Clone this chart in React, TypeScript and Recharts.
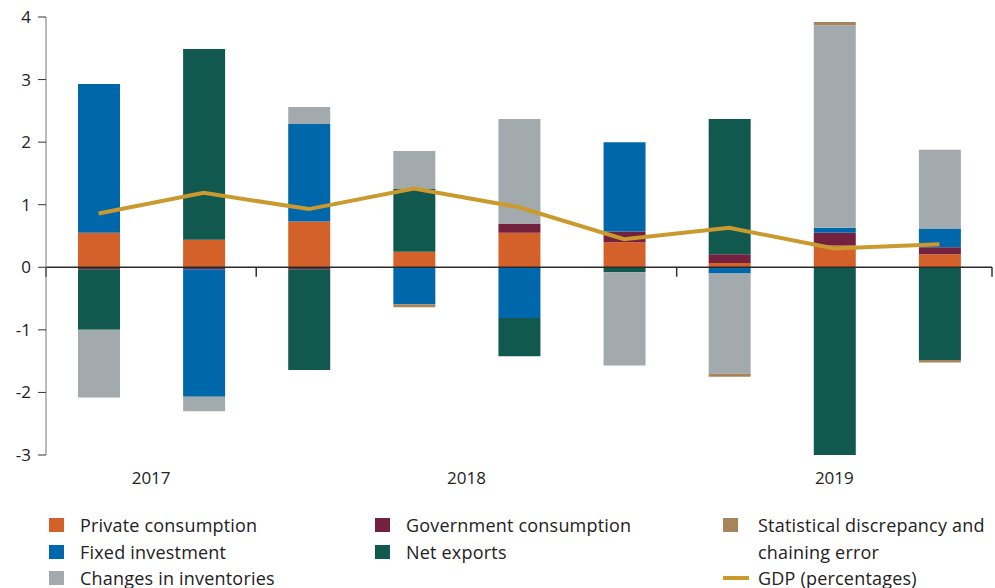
import React from 'react';
import { ComposedChart, Bar, Line, XAxis, YAxis, ReferenceLine, Legend } from 'recharts';

const quarters = ['2017 Q3', '2017 Q4', '2018 Q1', '2018 Q2', '2018 Q3', '2018 Q4', '2019 Q1', '2019 Q2', '2019 Q3'];
const privateConsumption = [0.55, 0.44, 0.73, 0.25, 0.55, 0.4, 0.07, 0.35, 0.21];
const governmentConsumption = [-0.03, -0.03, -0.03, 0, 0.14, 0.17, 0.14, 0.2, 0.11];
const fixedInvestment = [2.38, -2.04, 1.56, -0.59, -0.81, 1.43, -0.1, 0.08, 0.3];
const netExports = [-0.97, 3.05, -1.61, 1.0, -0.61, -0.08, 2.16, -3.0, -1.48];
const inventories = [-1.08, -0.23, 0.27, 0.61, 1.68, -1.49, -1.6, 3.24, 1.26];
const discrepancy = [0, 0, 0, -0.05, 0, 0, -0.05, 0.05, -0.04];
const gdp = [0.86, 1.19, 0.93, 1.26, 0.96, 0.45, 0.63, 0.3, 0.37];
const yTicks = [-3, -2, -1, 0, 1, 2, 3, 4];

const FONT = '"Open Sans", sans-serif';

const series = [
  { key: 'privateC', name: 'Private consumption', color: '#d4602a', values: privateConsumption },
  { key: 'govC', name: 'Government consumption', color: '#74213f', values: governmentConsumption },
  { key: 'fixedInv', name: 'Fixed investment', color: '#0067ab', values: fixedInvestment },
  { key: 'netExp', name: 'Net exports', color: '#11594e', values: netExports },
  { key: 'inv', name: 'Changes in inventories', color: '#a3aaad', values: inventories },
  { key: 'disc', name: 'Statistical discrepancy and chaining error', color: '#a8845a', values: discrepancy },
];
const GDP_COLOR = '#cb9a2f';

const data = quarters.map((q, i) => {
  const row: any = { q, pos: i + 0.5, gdp: gdp[i] };
  series.forEach((s) => (row[s.key] = s.values[i]));
  return row;
});

// group quarters by year -> label centres and separators on the year axis
const yearGroups: { year: string; start: number; end: number }[] = [];
quarters.forEach((q, i) => {
  const y = q.split(' ')[0];
  const last = yearGroups[yearGroups.length - 1];
  if (last && last.year === y) last.end = i + 1;
  else yearGroups.push({ year: y, start: i, end: i + 1 });
});
const yearCenters = yearGroups.map((g) => (g.start + g.end) / 2);
const yearBounds = [0, ...yearGroups.map((g) => g.end)];

const legendCols = [
  [
    { label: 'Private consumption', color: '#d4602a' },
    { label: 'Fixed investment', color: '#0067ab' },
    { label: 'Changes in inventories', color: '#a3aaad' },
  ],
  [
    { label: 'Government consumption', color: '#74213f' },
    { label: 'Net exports', color: '#11594e' },
  ],
  [
    { label: 'Statistical discrepancy and', color: '#a8845a' },
    { label: 'chaining error', color: null },
    { label: 'GDP (percentages)', color: GDP_COLOR, line: true },
  ],
];
const colLeft = [49, 375, 723];

function renderLegend() {
  return (
    <div
      style={{
        position: 'relative',
        width: 995,
        height: 80,
        fontFamily: FONT,
        fontSize: 18,
        letterSpacing: 0.2,
        color: '#222',
      }}
    >
      {legendCols.map((col, ci) =>
        col.map((item: any, ri) => (
          <div
            key={ci + '-' + ri}
            style={{
              position: 'absolute',
              left: colLeft[ci],
              top: 4 + ri * 26.5,
              height: 26,
              display: 'flex',
              alignItems: 'center',
              whiteSpace: 'nowrap',
            }}
          >
            <span style={{ width: ci === 2 ? 35 : 31, display: 'inline-block' }}>
              {item.color && !item.line && (
                <span style={{ display: 'block', width: 15, height: 14, background: item.color }} />
              )}
              {item.line && <span style={{ display: 'block', width: 26, height: 4, background: item.color }} />}
            </span>
            <span>{item.label}</span>
          </div>
        ))
      )}
    </div>
  );
}

export default function App() {
  return (
    <div style={{ position: 'absolute', left: 0, top: 0 }}>
      <ComposedChart
        width={995}
        height={588}
        data={data}
        stackOffset="sign"
        margin={{ top: 17, right: 3, bottom: 0, left: 0 }}
      >
        <XAxis dataKey="q" hide height={0} />
        <XAxis
          xAxisId="year"
          dataKey="pos"
          type="number"
          domain={[0, quarters.length]}
          allowDataOverflow
          ticks={yearCenters}
          tickFormatter={(v: number) => yearGroups[yearCenters.indexOf(v)]?.year ?? ''}
          axisLine={false}
          tickLine={false}
          tickSize={0}
          tickMargin={17}
          height={53}
          tick={{ fill: '#222', fontSize: 17, fontFamily: FONT }}
        />
        <YAxis
          domain={[-3, 4]}
          ticks={yTicks}
          width={46}
          tickSize={8}
          tickMargin={7}
          axisLine={{ stroke: '#777' }}
          tickLine={{ stroke: '#333' }}
          tick={{ fill: '#222', fontSize: 17, fontFamily: FONT }}
        />
        <Legend verticalAlign="bottom" content={renderLegend} />
        {series.map((s) => (
          <Bar key={s.key} dataKey={s.key} name={s.name} stackId="a" fill={s.color} barSize={42} isAnimationActive={false} />
        ))}
        <ReferenceLine y={0} stroke="#2a2a2a" strokeWidth={1.5} />
        {yearBounds.map((b) => (
          <ReferenceLine
            key={b}
            xAxisId="year"
            segment={[{ x: b, y: 0 }, { x: b, y: -0.15 }]}
            stroke="#333"
            strokeWidth={1.5}
            ifOverflow="visible"
          />
        ))}
        <Line
          dataKey="gdp"
          name="GDP (percentages)"
          type="linear"
          stroke={GDP_COLOR}
          strokeWidth={4}
          dot={false}
          activeDot={false}
          isAnimationActive={false}
        />
      </ComposedChart>
    </div>
  );
}
